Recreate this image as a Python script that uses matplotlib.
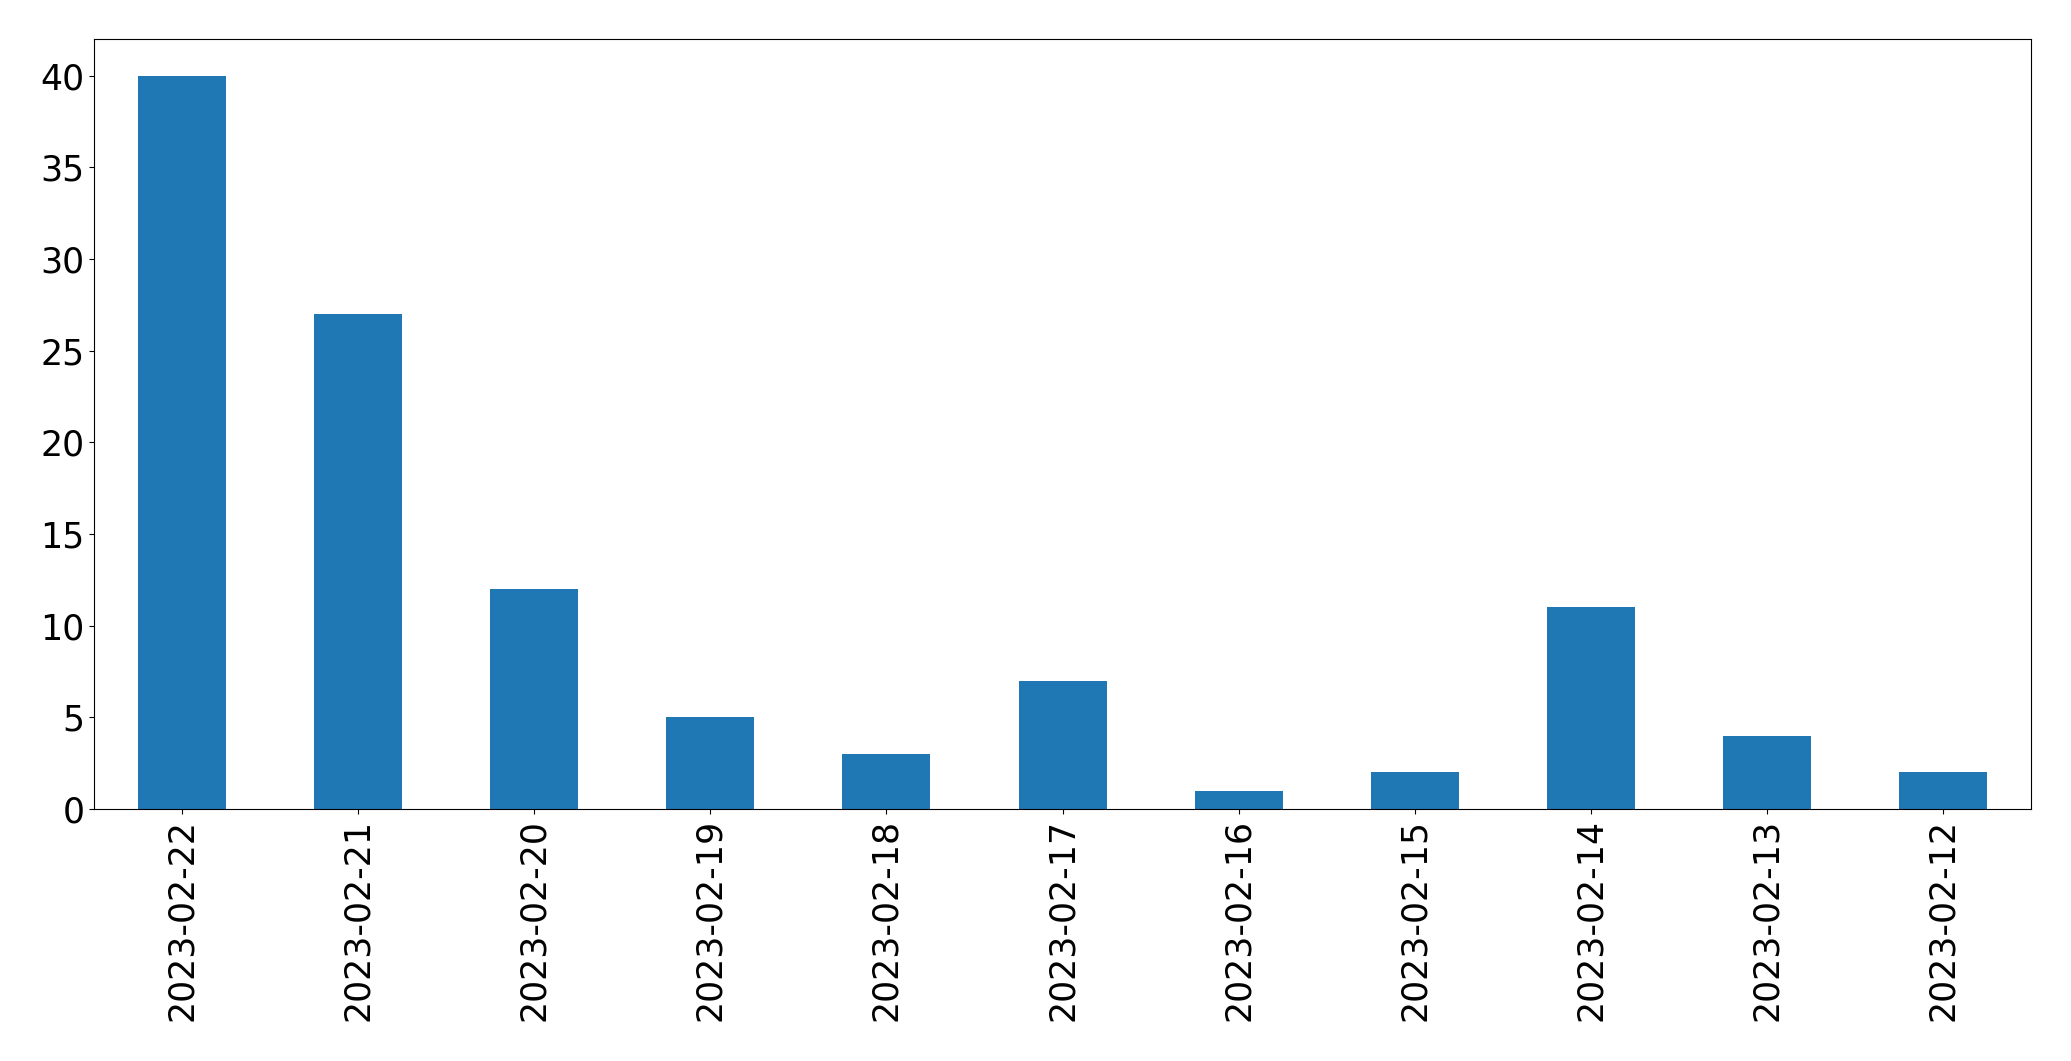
import matplotlib
matplotlib.use("Agg")
import matplotlib.pyplot as plt

dates = ["2023-02-22", "2023-02-21", "2023-02-20", "2023-02-19", "2023-02-18",
         "2023-02-17", "2023-02-16", "2023-02-15", "2023-02-14", "2023-02-13",
         "2023-02-12"]
counts = [40, 27, 12, 5, 3, 7, 1, 2, 11, 4, 2]

plt.rcParams['font.size'] = 25
fig = plt.figure(figsize=(20.71, 10.61), dpi=100)
ax = fig.add_axes([0.0454, 0.2375, 0.9353, 0.7257])
x = list(range(len(dates)))
ax.bar(x, counts, width=0.5, color="#1f77b4")
ax.set_xticks(x)
ax.set_xticklabels(dates, rotation=90)
ax.set_xlim(-0.5, len(dates) - 0.5)
ax.set_ylim(0, 42)
ax.set_yticks([0, 5, 10, 15, 20, 25, 30, 35, 40])
fig.savefig("out.png", dpi=100)
